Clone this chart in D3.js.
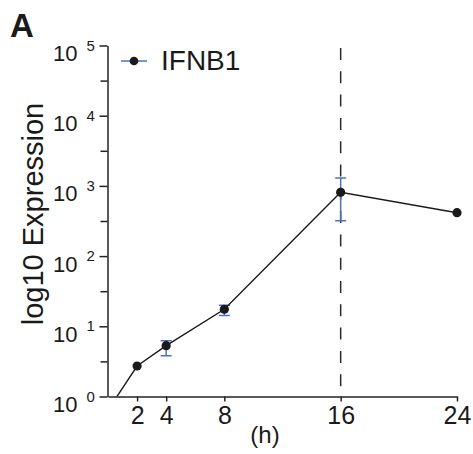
<!DOCTYPE html>
<html>
<head>
<meta charset="utf-8">
<script src="https://cdn.jsdelivr.net/npm/d3@7"></script>
<style>
  html, body { margin: 0; padding: 0; background: #fff; }
  svg { display: block; font-family: "Liberation Sans", Arial, Helvetica, sans-serif; }
</style>
</head>
<body>
<svg id="chart" width="473" height="454"></svg>
<script>
// ---- data ----
const hours      = [0, 2, 4, 8, 16, 24];
const expression = [0.64, 2.72, 5.3, 17.5, 811, 415];
const errLow     = [null, null, 3.8, 14.2, 319, null];
const errHigh    = [null, null, 6.2, 20, 1297, null];
const xTicks     = [2, 4, 8, 16, 24];
const yTicks     = [1, 10, 100, 1000, 10000, 100000];
const yExponents = ["0", "1", "2", "3", "4", "5"];
const yMinorTicks = [Math.pow(10, 0.5), Math.pow(10, 1.5), Math.pow(10, 2.5), Math.pow(10, 3.5), Math.pow(10, 4.5)];
const markerHour = 16;
const seriesName = "IFNB1";
const panelLabel = "A";
const yLabel = "log10 Expression";
const xLabel = "(h)";

// ---- layout ----
const svg = d3.select("#chart");
const x = d3.scaleLinear().domain([0, 24]).range([108, 457]);
const y = d3.scaleLog().domain([1, 100000]).range([396.5, 45.5]);
const lineColor = "#1a1a1a";
const errColor = "#4d70c6";

const data = hours.map((h, i) => ({h, v: expression[i], lo: errLow[i], hi: errHigh[i]}));

// clip
svg.append("defs").append("clipPath").attr("id", "plotclip")
  .append("rect").attr("x", 107.5).attr("y", 30).attr("width", 370).attr("height", 366.5);

// dashed vertical line
svg.append("line")
  .attr("x1", x(markerHour)).attr("x2", x(markerHour))
  .attr("y1", y(100000) + 2.5).attr("y2", y(1))
  .attr("stroke", "#2a2a2a").attr("stroke-width", 1.5)
  .attr("stroke-dasharray", "12,11.3");

// axes
const yAxis = svg.append("g").attr("transform", "translate(107.5,0)")
  .call(d3.axisLeft(y).tickValues(yTicks).tickFormat("").tickSize(8).tickSizeOuter(0));
const yMinor = svg.append("g").attr("transform", "translate(107.5,0)")
  .call(d3.axisLeft(y).tickValues(yMinorTicks).tickFormat("").tickSize(7).tickSizeOuter(0));
yMinor.select(".domain").remove();

const xAxis = svg.append("g").attr("transform", "translate(0,396.5)")
  .call(d3.axisBottom(x).tickValues(xTicks).tickSize(5).tickSizeOuter(0));

[yAxis, yMinor, xAxis].forEach(g => {
  g.selectAll("path, line").attr("stroke", "#222").attr("stroke-width", 1.5);
});

xAxis.selectAll(".tick text")
  .attr("y", 27).attr("dy", 0)
  .attr("font-size", 25).attr("fill", "#1a1a1a")
  .style("font-family", "Liberation Sans, Arial, sans-serif");

yAxis.selectAll(".tick").each(function(d, i) {
  const g = d3.select(this);
  g.append("text")
    .attr("x", -30).attr("y", 15)
    .attr("text-anchor", "end")
    .attr("font-size", 22).attr("fill", "#1a1a1a")
    .text("10");
  g.append("text")
    .attr("x", -21).attr("y", 4.5)
    .attr("text-anchor", "start")
    .attr("font-size", 15).attr("fill", "#1a1a1a")
    .text(yExponents[i]);
});

// axis titles
svg.append("text")
  .attr("transform", "translate(43,214) rotate(-90)")
  .attr("text-anchor", "middle")
  .attr("font-size", 29).attr("fill", "#1a1a1a")
  .text(yLabel);

svg.append("text")
  .attr("x", 265).attr("y", 443)
  .attr("text-anchor", "middle")
  .attr("font-size", 24).attr("fill", "#1a1a1a")
  .text(xLabel);

svg.append("text")
  .attr("x", 10).attr("y", 37)
  .attr("font-size", 33).attr("font-weight", "bold").attr("fill", "#1a1a1a")
  .text(panelLabel);

// plot content
const plot = svg.append("g").attr("clip-path", "url(#plotclip)");

const errData = data.filter(d => d.lo != null);
const eb = plot.selectAll("g.err").data(errData).join("g").attr("class", "err")
  .attr("stroke", errColor).attr("stroke-width", 1.5);
eb.append("line")
  .attr("x1", d => x(d.h)).attr("x2", d => x(d.h))
  .attr("y1", d => y(d.lo)).attr("y2", d => y(d.hi));
eb.append("line")
  .attr("x1", d => x(d.h) - 5.5).attr("x2", d => x(d.h) + 5.5)
  .attr("y1", d => y(d.lo)).attr("y2", d => y(d.lo));
eb.append("line")
  .attr("x1", d => x(d.h) - 5.5).attr("x2", d => x(d.h) + 5.5)
  .attr("y1", d => y(d.hi)).attr("y2", d => y(d.hi));

plot.append("path").datum(data)
  .attr("fill", "none").attr("stroke", lineColor).attr("stroke-width", 1.4)
  .attr("d", d3.line().x(d => x(d.h)).y(d => y(d.v)));

plot.selectAll("circle.pt").data(data).join("circle").attr("class", "pt")
  .attr("cx", d => x(d.h)).attr("cy", d => y(d.v)).attr("r", 4.6)
  .attr("fill", lineColor);

// legend
const leg = svg.append("g");
leg.append("line").attr("x1", 121).attr("x2", 147).attr("y1", 61).attr("y2", 61)
  .attr("stroke", errColor).attr("stroke-width", 1.5);
leg.append("circle").attr("cx", 134).attr("cy", 61).attr("r", 4.3).attr("fill", lineColor);
leg.append("text").attr("x", 161).attr("y", 70)
  .attr("font-size", 28).attr("fill", "#1a1a1a").text(seriesName);
</script>
</body>
</html>
